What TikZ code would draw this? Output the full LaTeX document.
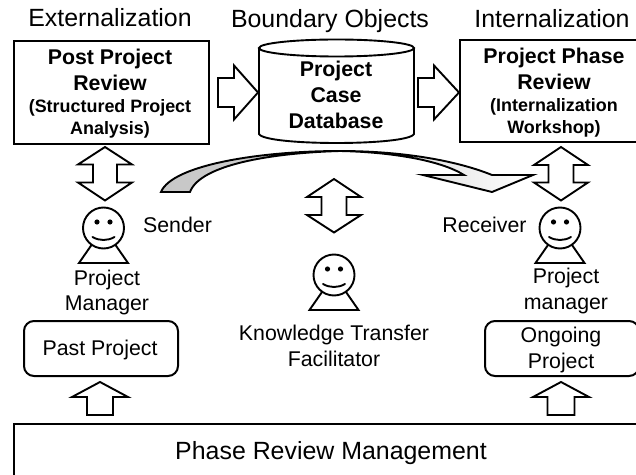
\documentclass[tikz,border=0pt]{standalone}
\usepackage{fontspec}
\setmainfont{Liberation Sans}
\newcommand{\fH}{\fontsize{25}{29}\selectfont}
\newcommand{\fB}{\fontsize{21.4}{26}\selectfont}
\newcommand{\fS}{\fontsize{18}{22}\selectfont}
\tikzset{
  x=1bp,y=-1bp,
  ln/.style={draw=black,line width=1.9bp,line join=miter,fill=white},
  thin box/.style={draw=black,line width=2bp,fill=white,inner sep=0pt,align=center,anchor=north west},
  round box/.style={thin box,rounded corners=10bp},
  lab/.style={inner sep=0pt,align=center,font=\fB},
  head/.style={inner sep=0pt,font=\fH,anchor=base},
  bl/.style={inner sep=0pt,anchor=base,font=\fB\bfseries},
  sl/.style={inner sep=0pt,anchor=base,font=\fS\bfseries},
}
\newcommand{\rarrow}[6]{\draw[ln] (#1,#4-#5) -- (#2,#4-#5) -- (#2,#4-#6) -- (#3,#4) -- (#2,#4+#6) -- (#2,#4+#5) -- (#1,#4+#5) -- cycle;}
\newcommand{\darrow}[7]{\draw[ln] (#1,#2) -- (#1+#7,#3) -- (#1+#6,#3) -- (#1+#6,#4) -- (#1+#7,#4) -- (#1,#5) -- (#1-#7,#4) -- (#1-#6,#4) -- (#1-#6,#3) -- (#1-#7,#3) -- cycle;}
\newcommand{\uarrow}[6]{\draw[ln] (#1,#2) -- (#1+#6,#3) -- (#1+#5,#3) -- (#1+#5,#4) -- (#1-#5,#4) -- (#1-#5,#3) -- (#1-#6,#3) -- cycle;}
\newcommand{\person}[2]{%
  \draw[ln,line join=miter] (#1-12,#2+17) -- (#1-24.5,#2+35) -- (#1+24.5,#2+35) -- (#1+12,#2+17);
  \draw[ln] (#1,#2) circle[radius=20.5];
  \fill (#1-6.5,#2-6) circle[radius=2.6];
  \fill (#1+6.5,#2-6) circle[radius=2.6];
  \draw[line width=1.9bp,line cap=round] (#1-11,#2+9) .. controls (#1-4,#2+13) and (#1+4,#2+13) .. (#1+11,#2+9);
}
\begin{document}
\begin{tikzpicture}
\useasboundingbox (0,0) rectangle (636,475);
\clip (0,0) rectangle (636,475);
\fill[white] (0,0) rectangle (636,475);
% headings
\node[head] (hext) at (110,27) {Externalization};
\node[head] (hbo) at (330,28) {Boundary Objects};
\node[head] (hint) at (552,27.5) {Internalization};
% review boxes
\node[thin box,minimum width=195bp,minimum height=103bp] (ppr) at (13,40) {};
\node[bl] (ppr1) at (110,65) {Post Project};
\node[bl] (ppr2) at (110,91) {Review};
\node[sl] (ppr3) at (110,113) {(Structured Project};
\node[sl] (ppr4) at (110,135) {Analysis)};
\node[thin box,minimum width=190bp,minimum height=102bp] (ppp) at (459,39) {};
\node[bl] (ppp1) at (554,64) {Project Phase};
\node[bl] (ppp2) at (554,90) {Review};
\node[sl] (ppp3) at (554,112) {(Internalization};
\node[sl] (ppp4) at (554,134) {Workshop)};
% cylinder
\draw[ln] (259,48) -- (259,134) .. controls (265,146) and (408,146) .. (414,134) -- (414,48);
\draw[ln] (336.5,48) ellipse[x radius=77.5,y radius=8.5];
\node[bl] (db1) at (336,77) {Project};
\node[bl] (db2) at (336,103) {Case};
\node[bl] (db3) at (336,129) {Database};
% arrows between top items
\rarrow{218}{234}{258}{92.5}{14.5}{27}
\rarrow{418}{434}{459}{92.5}{14.5}{27}
% double arrows
\darrow{105}{147}{164.5}{182.5}{200.5}{12}{27}
\darrow{561}{147}{165}{182.5}{200.5}{12.5}{27}
\darrow{334}{179}{197}{215}{232.5}{12.5}{27}
% curved transfer arrow
\draw[ln,left color=black!22,right color=white,middle color=black!18]
  (161,192) .. controls (172,165) and (260,151) .. (340,151)
  .. controls (400,151) and (455,160) .. (492,175)
  -- (533,175) -- (492,192) -- (423,175) -- (464,175)
  .. controls (440,160) and (390,152) .. (340,151)
  .. controls (270,153) and (200,165) .. (190,192) -- cycle;
% persons
\person{103.5}{228}
\person{560}{228}
\person{334}{275}
% labels
\node[lab] (snd) at (177.5,225) {Sender};
\node[lab] (rcv) at (484.5,225) {Receiver};
\node[lab] (pm) at (107,292.5) {Project\\Manager};
\node[lab] (pm2) at (566,291) {Project\\manager};
\node[lab] (ktf) at (334,346) {Knowledge Transfer\\Facilitator};
% project boxes
\node[round box,minimum width=154bp,minimum height=55bp] (past) at (23,320) {};
\node[lab] (pastt) at (100,349.5) {Past Project};
\node[round box,minimum width=154bp,minimum height=55bp] (ong) at (484,320) {};
\node[lab] (ongt) at (561,350) {Ongoing\\Project};
% up arrows
\uarrow{100}{382}{397}{415}{13}{28}
\uarrow{561}{382}{397}{415}{13.5}{28}
% bottom box
\node[thin box,minimum width=640bp,minimum height=70bp] (prm) at (13,423) {};
\node[lab,font=\fH] (prmt) at (331,453.5) {Phase Review Management};
\end{tikzpicture}
\end{document}
